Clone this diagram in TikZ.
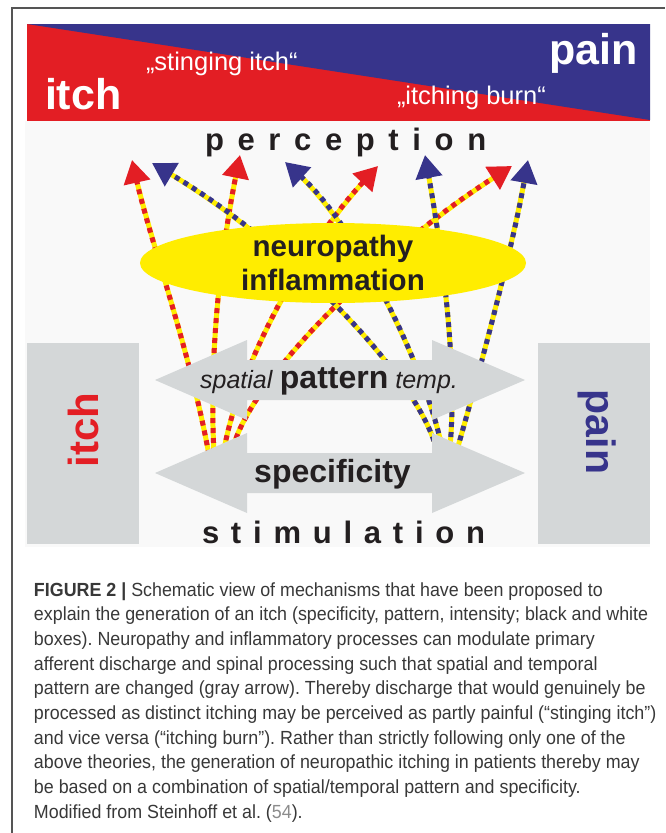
\documentclass[tikz,border=0pt]{standalone}
\usepackage{fontspec}
\setmainfont{Liberation Sans}
\newfontfamily\capfont[FakeStretch=0.94]{Liberation Sans}
\newfontfamily\wordfont{Liberation Sans}
\usetikzlibrary{positioning,arrows.meta,shapes.geometric}
\definecolor{itchred}{RGB}{227,30,36}
\definecolor{painblue}{RGB}{55,52,139}
\definecolor{nerveyellow}{RGB}{255,237,0}
\definecolor{boxgray}{RGB}{212,215,216}
\definecolor{panelbg}{RGB}{249,249,249}
\definecolor{inkdark}{RGB}{35,31,32}
\definecolor{framegray}{RGB}{85,85,85}
\frenchspacing

\tikzset{
  txt/.style={inner sep=0pt, outer sep=0pt},
  fibre/.style={draw=nerveyellow, line width=5pt, shorten >=14pt,
    postaction={draw=#1, dash pattern=on 5pt off 5pt, shorten >=0pt,
      -{Triangle[length=23pt,width=26pt]}}},
  itchfibre/.style={fibre=itchred},
  painfibre/.style={fibre=painblue},
  capline/.style={txt, anchor=base west, text=black!78,
    font=\capfont\fontsize{19}{19}\selectfont}
}

\begin{document}
\begin{tikzpicture}[x=1pt, y=-1pt]
    \useasboundingbox (0,0) rectangle (665,833);

    % Frame and panel
    \draw[framegray, line width=1.2pt] (12,833) -- (12,8) -- (665,8);
    \fill[panelbg] (25,121) rectangle (650,547);

    % Banner
    \fill[itchred] (27,24) rectangle (650,121);
    \fill[painblue] (27,24) -- (650,24) -- (650,120) -- cycle;
    \node[txt, anchor=base west, text=white, font=\fontsize{43}{43}\selectfont\bfseries] (itchtop) at (45,109) {itch};
    \node[txt, anchor=base east, text=white, font=\fontsize{43}{43}\selectfont\bfseries] (paintop) at (638,64) {pain};
    \node[txt, anchor=base west, text=white, font=\fontsize{25.5}{25.5}\selectfont] (stinging) at (146,70) {„stinging itch“};
    \node[txt, anchor=base west, text=white, font=\fontsize{25.5}{25.5}\selectfont] (burn) at (397,104) {„itching burn“};

    % Side boxes
    \node[txt, fill=boxgray, minimum width=112pt, minimum height=201pt] (itchbox) at (83,443.5) {};
    \node[txt, fill=boxgray, minimum width=112pt, minimum height=201pt] (painbox) at (594,443.5) {};
    \node[txt, rotate=90, text=itchred, font=\fontsize{42}{42}\selectfont\bfseries] (itchside) at (83,430) {itch};
    \node[txt, rotate=-90, text=painblue, font=\fontsize{41}{41}\selectfont\bfseries] (painside) at (597,432) {pain};

    % Fibre ends
    \coordinate (r1s) at (209,455); \coordinate (r1p) at (132,160);
    \coordinate (r2s) at (214,453); \coordinate (r2p) at (240,155);
    \coordinate (r3s) at (224,450); \coordinate (r3p) at (378,166);
    \coordinate (r4s) at (233,448); \coordinate (r4p) at (512,166);
    \coordinate (b1s) at (434,441); \coordinate (b1p) at (152,163);
    \coordinate (b2s) at (441,443); \coordinate (b2p) at (285,162);
    \coordinate (b3s) at (450,447); \coordinate (b3p) at (425,155);
    \coordinate (b4s) at (457,450); \coordinate (b4p) at (528,160);

    % Fibres
    \draw[itchfibre] (r1s) .. controls (190,350) and (150,240) .. (r1p);
    \draw[itchfibre] (r2s) .. controls (208,340) and (225,230) .. (r2p);
    \draw[itchfibre] (r3s) .. controls (238,370) and (300,250) .. (r3p);
    \draw[itchfibre] (r4s) .. controls (250,380) and (380,250) .. (r4p);
    \draw[painfibre] (b1s) .. controls (410,370) and (290,245) .. (b1p);
    \draw[painfibre] (b2s) .. controls (425,370) and (360,230) .. (b2p);
    \draw[painfibre] (b3s) .. controls (458,360) and (440,240) .. (b3p);
    \draw[painfibre] (b4s) .. controls (480,370) and (512,250) .. (b4p);

    % Ellipse
    \node[ellipse, fill=nerveyellow, minimum width=386pt, minimum height=80pt, inner sep=0pt,
      align=center, text=inkdark, font=\fontsize{29.5}{34}\selectfont\bfseries] (nerve) at (333,263) {neuropathy\\inflammation};

    % Gray arrows
    \fill[boxgray] (155,380) -- (247,340) -- (247,360) -- (432,360) -- (432,340) -- (525,380)
      -- (432,420) -- (432,400) -- (247,400) -- (247,420) -- cycle;
    \fill[boxgray] (155,473) -- (247,433) -- (247,453) -- (432,453) -- (432,433) -- (525,473)
      -- (432,513) -- (432,493) -- (247,493) -- (247,513) -- cycle;
    \node[txt, anchor=base, text=inkdark] (patterntxt) at (329,388)
      {\fontsize{25}{25}\selectfont\textit{spatial} {\fontsize{32}{32}\selectfont\textbf{pattern}} \textit{temp.}};
    \node[txt, anchor=base, text=inkdark, font=\fontsize{32}{32}\selectfont\bfseries] (spectxt) at (332.5,482) {specificity};

    % Levels
    \node[txt, anchor=base west, text=inkdark, font=\wordfont\addfontfeature{LetterSpace=44}\fontsize{31}{31}\selectfont\bfseries] (perc) at (205,150) {perception};
    \node[txt, anchor=base west, text=inkdark, font=\wordfont\addfontfeature{LetterSpace=38}\fontsize{31}{31}\selectfont\bfseries] (stim) at (202,543) {stimulation};

    % Caption
    \node[capline] (cap1) at (34,596) {\textbf{FIGURE 2 |} Schematic view of mechanisms that have been proposed to};
    \node[capline] (cap2) at (34,620.7) {explain the generation of an itch (specificity, pattern, intensity; black and white};
    \node[capline] (cap3) at (34,645.4) {boxes). Neuropathy and inflammatory processes can modulate primary};
    \node[capline] (cap4) at (34,670.1) {afferent discharge and spinal processing such that spatial and temporal};
    \node[capline] (cap5) at (34,694.8) {pattern are changed (gray arrow). Thereby discharge that would genuinely be};
    \node[capline] (cap6) at (34,719.5) {processed as distinct itching may be perceived as partly painful (“stinging itch”)};
    \node[capline] (cap7) at (34,744.2) {and vice versa (“itching burn”). Rather than strictly following only one of the};
    \node[capline] (cap8) at (34,768.9) {above theories, the generation of neuropathic itching in patients thereby may};
    \node[capline] (cap9) at (34,793.6) {be based on a combination of spatial/temporal pattern and specificity.};
    \node[capline] (cap10) at (34,818.3) {Modified from Steinhoff et al. ({\color{black!45}54}).};
\end{tikzpicture}
\end{document}
